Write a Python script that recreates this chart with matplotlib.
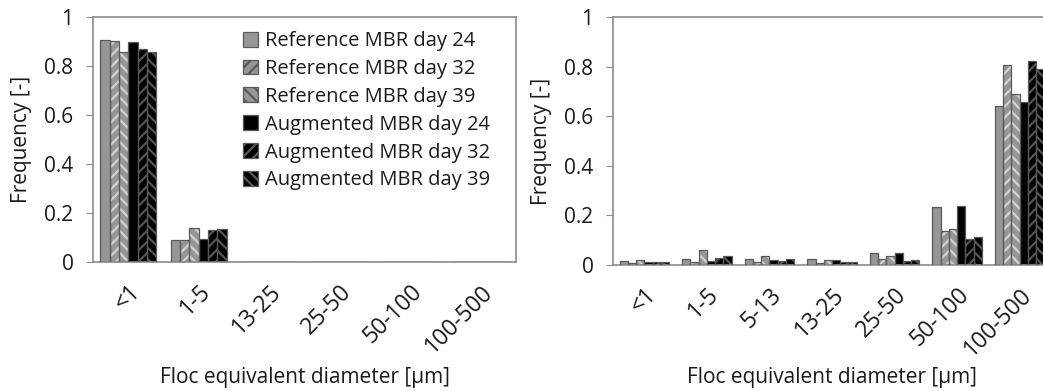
import matplotlib
matplotlib.use("Agg")
import matplotlib.pyplot as plt
import matplotlib.transforms as mtransforms
from matplotlib.patches import Patch
import numpy as np

plt.rcParams['font.family'] = ['Open Sans', 'DejaVu Sans']
plt.rcParams['hatch.linewidth'] = 1.6

# categories for each panel
cats_left = ['<1', '1-5', '13-25', '25-50', '50-100', '100-500']
cats_right = ['<1', '1-5', '5-13', '13-25', '25-50', '50-100', '100-500']

series = ['Reference MBR day 24', 'Reference MBR day 32', 'Reference MBR day 39',
          'Augmented MBR day 24', 'Augmented MBR day 32', 'Augmented MBR day 39']

# left panel values (one list per series, per category)
ref24_l = [0.905, 0.091, 0.002, 0.002, 0.002, 0.002]
ref32_l = [0.901, 0.091, 0.002, 0.002, 0.002, 0.002]
ref39_l = [0.857, 0.139, 0.002, 0.002, 0.002, 0.002]
aug24_l = [0.898, 0.094, 0.002, 0.002, 0.002, 0.002]
aug32_l = [0.868, 0.129, 0.002, 0.002, 0.002, 0.002]
aug39_l = [0.859, 0.135, 0.002, 0.002, 0.002, 0.002]

# right panel values
ref24_r = [0.016, 0.025, 0.024, 0.024, 0.048, 0.233, 0.642]
ref32_r = [0.008, 0.013, 0.012, 0.009, 0.023, 0.139, 0.807]
ref39_r = [0.020, 0.062, 0.038, 0.021, 0.036, 0.146, 0.689]
aug24_r = [0.011, 0.017, 0.019, 0.020, 0.050, 0.237, 0.657]
aug32_r = [0.011, 0.028, 0.017, 0.011, 0.017, 0.105, 0.823]
aug39_r = [0.012, 0.036, 0.025, 0.011, 0.021, 0.114, 0.790]

# bar styles: face colour, hatch, hatch colour
faces = ['#969696', '#969696', '#969696', '#000000', '#000000', '#000000']
hatches = [None, '///', '\\\\\\', None, '///', '\\\\\\']
hcols = ['#969696', '#d2d2d2', '#d2d2d2', '#000000', '#555555', '#555555']
edge = '#5a5a5a'
spine_col = '#8c8c8c'
text_col = '#1a1a1a'

fig = plt.figure(figsize=(10.43, 3.91), dpi=100)
ax1 = fig.add_axes([93 / 1043, 1 - 262 / 391, 423 / 1043, 245 / 391])
ax2 = fig.add_axes([613 / 1043, 1 - 265 / 391, 438 / 1043, 248 / 391])

width = 1 / 7.6


def draw(ax, cats, data, xlab_y):
    x = np.arange(len(cats))
    for i, vals in enumerate(data):
        pos = x + (i - 2.5) * width
        ax.bar(pos, vals, width, color=faces[i], hatch=hatches[i],
               edgecolor=hcols[i], linewidth=0, zorder=2)
        ax.bar(pos, vals, width, fill=False, edgecolor=edge, linewidth=0.9, zorder=3)
    ax.set_xlim(-0.5, len(cats) - 0.5)
    ax.set_ylim(0, 1)
    ax.set_yticks([0, 0.2, 0.4, 0.6, 0.8, 1])
    ax.set_yticklabels(['0', '0.2', '0.4', '0.6', '0.8', '1'])
    ax.set_xticks(x)
    ax.set_xticklabels(cats, rotation=45, ha='right', va='top', rotation_mode='anchor')
    shift = mtransforms.ScaledTranslation(5 / 100, 0, fig.dpi_scale_trans)
    for lab in ax.get_xticklabels():
        lab.set_transform(lab.get_transform() + shift)
    ax.tick_params(axis='x', length=0, pad=13, labelsize=16.5, labelcolor=text_col)
    ax.tick_params(axis='y', length=5, color=spine_col, labelsize=15, pad=9,
                   labelcolor=text_col)
    for s in ax.spines.values():
        s.set_color(spine_col)
        s.set_linewidth(1.2)
    ax.set_ylabel('Frequency [-]', fontsize=15, labelpad=9, color=text_col)
    ax.set_xlabel('Floc equivalent diameter [\u00b5m]', fontsize=15, color=text_col,
                  va='center')
    ax.xaxis.set_label_coords(0.5, xlab_y)


draw(ax1, cats_left, [ref24_l, ref32_l, ref39_l, aug24_l, aug32_l, aug39_l],
     (262 - 377) / 245)
draw(ax2, cats_right, [ref24_r, ref32_r, ref39_r, aug24_r, aug32_r, aug39_r],
     (265 - 377) / 248)

# legend handles
handles = [Patch(facecolor=faces[i], hatch=hatches[i], edgecolor=edge, linewidth=0.9)
           for i in range(6)]
ax1.legend(handles, series, loc='upper left', bbox_to_anchor=(0.335, 0.975),
           frameon=False, fontsize=14.5, handlelength=0.75, handleheight=0.75,
           handletextpad=0.35, labelspacing=0.39, borderaxespad=0,
           labelcolor=text_col)

fig.savefig('out.png', dpi=100)
